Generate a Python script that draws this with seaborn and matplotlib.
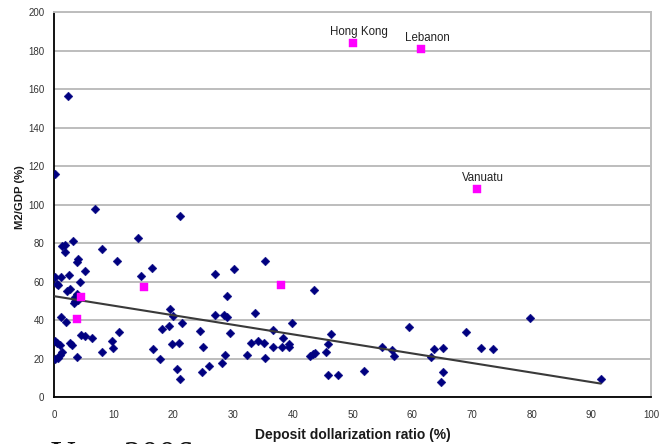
import numpy as np
import pandas as pd
import matplotlib
matplotlib.use("Agg")
import matplotlib.pyplot as plt
import seaborn as sns

# ---- data ----
blue_x = [2.4, 0.2, 6.8, 21.1, 14.0, 8.1, 3.2, 1.3, 1.9, 1.8,
          10.6, 3.8, 4.1, 5.2, 14.5, 16.4, 0.2, 1.1, 2.5, 0.5,
          0.6, 4.4, 2.2, 2.6, 3.8, 3.6, 4.1, 3.4, 3.6, 1.2,
          2.0, 0.2, 0.5, 1.0, 2.6, 3.0, 4.6, 5.2, 6.3, 10.9,
          9.7, 9.9, 8.1, 1.3, 1.0, 0.6, 3.9, 0.1, 18.1, 19.3,
          19.5, 20.0, 21.4, 16.6, 17.8, 19.8, 20.9, 20.6, 21.1, 24.5,
          25.0, 24.8, 26.0, 26.9, 30.1, 35.3, 43.6, 28.9, 26.9, 28.4,
          29.0, 29.4, 28.7, 28.2, 33.7, 32.4, 33.0, 34.2, 35.2, 35.3,
          36.6, 36.6, 38.4, 38.2, 39.3, 39.4, 39.9, 42.9, 43.4, 43.8,
          45.6, 45.9, 47.6, 45.9, 46.4, 51.9, 54.9, 56.6, 56.9, 59.5,
          63.2, 63.7, 65.1, 65.1, 64.9, 69.0, 71.5, 73.5, 79.7, 91.6]
blue_y = [156.7, 115.8, 98.0, 94.0, 82.5, 77.0, 81.0, 78.6, 79.1, 75.5,
          70.8, 70.4, 71.6, 65.5, 62.9, 67.3, 62.6, 62.3, 63.4, 59.1,
          58.3, 59.9, 55.4, 56.4, 53.7, 52.3, 50.5, 48.8, 49.9, 41.7,
          39.1, 29.5, 28.2, 27.0, 28.4, 27.3, 32.2, 31.8, 30.8, 33.8,
          29.0, 25.5, 23.3, 23.4, 21.8, 20.6, 20.9, 20.0, 35.6, 36.9,
          45.7, 42.1, 38.6, 24.9, 19.7, 27.7, 28.4, 14.5, 9.5, 34.4,
          26.3, 13.1, 16.3, 63.9, 66.5, 70.6, 55.9, 52.6, 42.9, 42.9,
          41.9, 33.2, 22.0, 18.0, 43.6, 21.8, 28.1, 29.2, 28.4, 20.3,
          35.0, 26.0, 30.8, 26.1, 27.5, 26.3, 38.8, 21.5, 22.6, 23.2,
          23.5, 11.7, 11.7, 27.8, 32.7, 13.8, 26.0, 24.6, 21.5, 36.7,
          20.9, 24.9, 25.8, 13.1, 7.8, 34.1, 25.6, 25.1, 41.0, 9.5]
pink_x = [4.5, 3.9, 15.0, 38.0]
pink_y = [52.3, 40.5, 57.5, 58.5]
named = ["Hong Kong", "Lebanon", "Vanuatu"]
named_x = [50.1, 61.5, 70.8]
named_y = [183.9, 180.8, 108.4]
x_ticks = list(range(0, 101, 10))
y_ticks = list(range(0, 201, 20))
x_label = "Deposit dollarization ratio (%)"
y_label = "M2/GDP (%)"
footer = "Year 2006"

blue = pd.DataFrame({"x": blue_x, "y": blue_y})
pink = pd.DataFrame({"x": pink_x + named_x, "y": pink_y + named_y})

sns.set_theme(style="white")
plt.rcParams["font.family"] = ["Liberation Sans", "DejaVu Sans"]

fig = plt.figure(figsize=(6.6, 4.44), dpi=100)
ax = fig.add_axes([54 / 660, (444 - 397.3) / 444, (651 - 54) / 660, (397.3 - 12.3) / 444])

grid_c = "#bdbdbd"
ax.set_axisbelow(True)
ax.yaxis.grid(True, color=grid_c, lw=1.4)
ax.xaxis.grid(False)

sns.regplot(data=blue, x="x", y="y", scatter=False, ci=None, truncate=True,
            line_kws={"color": "#3a3a3a", "lw": 1.5, "zorder": 4}, ax=ax)
sns.scatterplot(data=blue, x="x", y="y", marker="D", s=20, color="#000080",
                edgecolor="#000080", linewidth=0.3, ax=ax, zorder=3)
sns.scatterplot(data=pink, x="x", y="y", marker="s", s=30, color="#ff00ff",
                edgecolor="#ff00ff", linewidth=0.3, ax=ax, zorder=5)

for name, xv, yv in zip(named, named_x, named_y):
    ax.annotate(name, (xv, yv), xytext=(6, 11), textcoords="offset pixels",
                ha="center", va="center", fontsize=8.3, color="#222222")

ax.set_xlim(0, 100)
ax.set_ylim(0, 200)
ax.set_xticks(x_ticks)
ax.set_yticks(y_ticks)
ax.set_xticklabels([str(v) for v in x_ticks])
ax.set_yticklabels([str(v) for v in y_ticks])
ax.tick_params(axis="both", direction="out", length=4, width=1, color="black",
               labelsize=7, labelcolor="#333333")
ax.tick_params(axis="x", pad=5)
ax.tick_params(axis="y", pad=3)

for side in ["left", "bottom"]:
    ax.spines[side].set_color("black")
    ax.spines[side].set_linewidth(1.3)
for side in ["top", "right"]:
    ax.spines[side].set_color(grid_c)
    ax.spines[side].set_linewidth(1.4)

ax.set_xlabel(x_label, fontsize=10, fontweight="bold", color="#1a1a1a", labelpad=6)
ax.set_ylabel(y_label, fontsize=8.2, fontweight="bold", color="#1a1a1a", labelpad=8)
ax.yaxis.set_label_coords(-0.048, 0.52)

fig.text(51 / 660, (444 - 466) / 444, footer, fontsize=25, va="baseline", ha="left",
         family=["Liberation Serif", "DejaVu Serif"], color="#111111")

fig.savefig("out.png", dpi=100)
